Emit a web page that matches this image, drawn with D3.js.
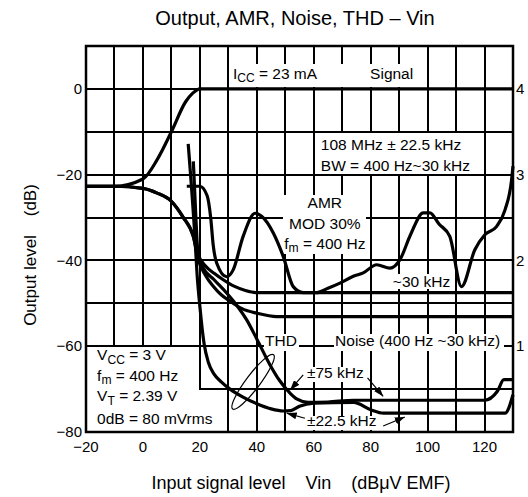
<!DOCTYPE html>
<html>
<head>
<meta charset="utf-8">
<script src="https://cdn.jsdelivr.net/npm/d3@7"></script>
<style>
  html, body { margin: 0; padding: 0; background: #fff; }
  #wrap { position: relative; width: 528px; height: 497px; }
  #wrap svg { position: absolute; left: 0; top: 0; display: block; font-family: "Liberation Sans", Arial, sans-serif; }
</style>
</head>
<body>
<div id="wrap">
  <svg id="grid" width="528" height="497"></svg>
  <svg id="chart" width="528" height="497"></svg>
</div>
<script>
// ---- data (x = input level dBuV EMF, y = output level dB) ----
const xTicks = [-20, 0, 20, 40, 60, 80, 100, 120];
const yTicks = [0, -20, -40, -60, -80];
const thdTicks = [1, 2, 3, 4];
const xGrid = [-10, 0, 10, 20, 30, 40, 50, 60, 70, 80, 90, 100, 110, 120];
const yGrid = [0, -10, -20, -30, -40, -50, -60, -70];

const signalOut = [[-20, -22.7], [-10, -22.7], [0, -21], [5, -16.5], [10, -10], [15, -3], [17.5, -1], [20, 0], [130, 0]];

const noiseWide = [[-20, -22.7], [-10, -22.7], [0, -23.2], [5, -24.3], [10, -26.2], [14.2, -30], [17.7, -34.4],
  [19.3, -38.5], [22, -41.3], [25, -43], [28.2, -44.5], [32, -46], [36, -47], [40, -47.5], [130, -47.5]];

const noiseBand = [[-20, -22.7], [-10, -22.7], [0, -23.2], [5, -24.3], [10, -26.2], [14.2, -30], [17.7, -34.4],
  [19.3, -39.5], [22, -43.5], [24.7, -46], [27.5, -48], [30.6, -49.5], [35, -51.3], [40, -52.3], [47, -53.1], [130, -53.1]];

const amr = [[15.4, -22.7], [20, -22.7], [22.5, -24.8], [23.8, -30], [24.7, -36.5], [25.9, -40.6], [29.4, -43.8],
  [31.7, -42.2], [35.2, -34.4], [39.4, -29], [41.7, -29.7], [45.8, -33.6], [49.3, -39.1], [52.8, -46.1],
  [56.3, -47.5], [61, -47.5], [65, -46.5], [69.2, -45.3], [73.9, -43.7], [77.4, -42.9], [82.1, -41],
  [86.8, -41.8], [90.3, -39.8], [94, -34], [98.5, -28.9], [100.8, -28.9], [104, -31.5], [107.8, -34.4],
  [111.9, -46.1], [116.6, -37.5], [120.1, -34], [124.2, -32.1], [127.2, -28.2], [129.5, -21.2], [130, -18]];

const thd75 = [[17.7, -16.9], [18.6, -30], [19.3, -38], [21, -41.5], [25, -44.5], [29.4, -47.6], [33, -50.5],
  [36.4, -53.8], [40, -58.3], [44.6, -64.3], [48, -68], [51.6, -70.9], [54, -72.3], [58, -73.1], [65, -73],
  [74, -72.6], [120, -72.6], [124.5, -70.5], [126.8, -67.8], [130, -67.8]];

const thd225 = [[15.9, -12.8], [18.3, -35], [19, -43], [20, -50.7], [21.5, -59.5], [23, -63.8], [25, -66.5],
  [27.5, -68.3], [30.6, -70], [35, -71.8], [40, -73.4], [45, -74.6], [49.3, -75.1], [52, -75], [55, -74],
  [60, -73.3], [74, -73.1], [80, -74.8], [84.5, -75.6], [127.2, -75.6], [130, -71.3]];

const series = [signalOut, noiseWide, noiseBand, amr, thd75, thd225];

// ---- layout ----
const W = 528, H = 497;
const margin = { top: 46, right: 15, bottom: 65, left: 86 };
const FONT = 15.5;

const x = d3.scaleLinear().domain([-20, 130]).range([margin.left, W - margin.right]);
const y = d3.scaleLinear().domain([-80, 10]).range([H - margin.bottom, margin.top]);
const yThd = d3.scaleLinear().domain([0, 4.5]).range([H - margin.bottom, margin.top]);

// areas where the grid is broken (boxes and labels), in data units [x0, yTop, x1, yBottom]
const gapAreas = [
  [60, -10, 120, -20],      // bandwidth box interior
  [-20, -60, 20, -80],      // conditions box, upper part
  [-20, -70, 30, -80],      // conditions box, lower part
  [30.6, 6, 97.1, 0.35],    // Icc / Signal
  [49, -24.5, 78.7, -38.6], // AMR block
  [87, -43, 109, -46.6],    // ~30 kHz
  [42.3, -57, 55.2, -61],   // THD
  [66.8, -57, 127.3, -61],  // Noise
  [56.8, -64.5, 78.6, -68.3], // ±75 kHz
  [56.8, -76, 83.5, -79.6]  // ±22.5 kHz
];
// to pixels, keeping the box borders (1 px inset where the edge is a grid line)
const gaps = gapAreas.map(([a, b, c, d]) => [x(a) + 1, y(b) + 1, x(c) - 1, y(d) - 0.01]);

// ---- grid (own layer underneath) ----
function segs(a, b, covers) {
  let out = [[a, b]];
  covers.forEach(([c0, c1]) => {
    const next = [];
    out.forEach(([s, e]) => {
      if (c1 <= s || c0 >= e) { next.push([s, e]); return; }
      if (c0 > s) next.push([s, c0]);
      if (c1 < e) next.push([c1, e]);
    });
    out = next;
  });
  return out;
}
const gridRects = [];
xGrid.forEach(v => {
  const px = Math.round(x(v));
  const cov = gaps.filter(g => x(v) > g[0] && x(v) < g[2]).map(g => [g[1], g[3]]);
  segs(y(10), y(-80), cov).forEach(([s, e]) => gridRects.push({ x: px - 1, y: Math.round(s), w: 2, h: Math.round(e) - Math.round(s) }));
});
yGrid.forEach(v => {
  const py = Math.round(y(v));
  const cov = gaps.filter(g => y(v) > g[1] && y(v) < g[3]).map(g => [g[0], g[2]]);
  segs(x(-20), x(130), cov).forEach(([s, e]) => gridRects.push({ x: Math.round(s), y: py - 1, w: Math.round(e) - Math.round(s), h: 2 }));
});
d3.select('#grid').selectAll('rect').data(gridRects).join('rect')
  .attr('x', d => d.x).attr('y', d => d.y)
  .attr('width', d => Math.max(0, d.w)).attr('height', d => Math.max(0, d.h))
  .attr('fill', '#000')
  .attr('shape-rendering', 'crispEdges');

// ---- chart layer ----
const svg = d3.select('#chart');

svg.append('defs').append('marker')
  .attr('id', 'arr')
  .attr('markerUnits', 'userSpaceOnUse')
  .attr('markerWidth', 10).attr('markerHeight', 7)
  .attr('refX', 10).attr('refY', 3.5)
  .attr('orient', 'auto')
  .append('path').attr('d', 'M0,0 L10,3.5 L0,7 Z').attr('fill', '#000');

const lineGen = d3.line().x(d => x(d[0])).y(d => y(d[1])).curve(d3.curveMonotoneX);
svg.append('g').selectAll('path').data(series).join('path')
  .attr('d', lineGen)
  .attr('fill', 'none').attr('stroke', '#000')
  .attr('stroke-width', 3.2).attr('stroke-linejoin', 'round');

const gText = svg.append('g').attr('font-size', FONT).attr('fill', '#000');

// text helper: parts = [[text, 'sub'?], ...]
function label(px, py, parts, anchor) {
  const t = gText.append('text')
    .attr('x', px).attr('y', py)
    .attr('text-anchor', anchor || 'start')
    .style('white-space', 'pre');
  let shifted = false;
  parts.forEach(p => {
    const s = t.append('tspan').text(p[0]);
    if (p[1] === 'sub') {
      s.attr('font-size', FONT * 0.78).attr('dy', shifted ? 0 : 3.5);
      shifted = true;
    } else if (shifted) {
      s.attr('dy', -3.5);
      shifted = false;
    }
  });
  return t;
}

label(x(31.6), y(2.4), [['I'], ['CC', 'sub'], [' = 23 mA']]);
label(x(79.8), y(2.4), [['Signal']]);

label(x(62.5), y(-14.2), [['108 MHz ± 22.5 kHz']]);
label(x(62.5), y(-19.1), [['BW = 400 Hz~30 kHz']]);

label(x(63.9), y(-27.7), [['AMR']], 'middle');
label(x(63.9), y(-32.6), [['MOD 30%']], 'middle');
label(x(63.9), y(-37.3), [['f'], ['m', 'sub'], [' = 400 Hz']], 'middle');

label(x(87.8), y(-46.1), [['~30 kHz']]);
label(x(42.9), y(-59.9), [['THD']]);
label(x(67.5), y(-59.9), [['Noise (400 Hz ~30 kHz)']]);
label(x(57.6), y(-67.3), [['±75 kHz']]);
label(x(57.6), y(-78.6), [['±22.5 kHz']]);

label(x(-16.1), y(-63.3), [['V'], ['CC', 'sub'], [' = 3 V']]);
label(x(-16.1), y(-68.1), [['f'], ['m', 'sub'], [' = 400 Hz']]);
label(x(-16.1), y(-72.8), [['V'], ['T', 'sub'], [' = 2.39 V']]);
label(x(-16.1), y(-78.1), [['0dB = 80 mVrms']]);

// arrows
const arrows = [
  [[56.3, -66.7], [51.7, -70.2]],
  [[78.9, -67.4], [84.4, -71.7]],
  [[56.9, -76.8], [50.5, -75.6]],
  [[84.4, -78.6], [92, -76.5]]
];
gText.selectAll('line').data(arrows).join('line')
  .attr('x1', d => x(d[0][0])).attr('y1', d => y(d[0][1]))
  .attr('x2', d => x(d[1][0])).attr('y2', d => y(d[1][1]))
  .attr('stroke', '#000').attr('stroke-width', 1.2)
  .attr('marker-end', 'url(#arr)');

// THD ellipse
gText.append('ellipse')
  .attr('cx', x(38.7)).attr('cy', y(-68.3))
  .attr('rx', 34).attr('ry', 7)
  .attr('transform', `rotate(-53 ${x(38.7)} ${y(-68.3)})`)
  .attr('fill', 'none').attr('stroke', '#000').attr('stroke-width', 1.2);

// frame
svg.append('rect')
  .attr('x', x(-20)).attr('y', y(10))
  .attr('width', x(130) - x(-20)).attr('height', y(-80) - y(10))
  .attr('fill', 'none').attr('stroke', '#000').attr('stroke-width', 2.5);

// axes labels
const gAx = svg.append('g').attr('font-size', 15).attr('fill', '#000');
gAx.selectAll('text.yl').data(yTicks).join('text')
  .attr('class', 'yl')
  .attr('x', x(-20) - 4).attr('y', d => y(d)).attr('dy', '0.35em')
  .attr('text-anchor', 'end')
  .text(d => d < 0 ? '\u2212' + Math.abs(d) : d);
gAx.selectAll('text.xl').data(xTicks).join('text')
  .attr('class', 'xl')
  .attr('x', d => x(d)).attr('y', y(-80) + 20)
  .attr('text-anchor', 'middle')
  .text(d => d < 0 ? '\u2212' + Math.abs(d) : d);
gAx.selectAll('text.rl').data(thdTicks).join('text')
  .attr('class', 'rl')
  .attr('x', x(130) + 3).attr('y', d => yThd(d)).attr('dy', '0.35em')
  .text(d => d);

svg.append('text')
  .attr('x', 295).attr('y', 25)
  .attr('text-anchor', 'middle').attr('font-size', 20)
  .text('Output, AMR, Noise, THD \u2013 Vin');

svg.append('text')
  .attr('x', 301).attr('y', 489)
  .attr('text-anchor', 'middle').attr('font-size', 18)
  .style('white-space', 'pre')
  .text('Input signal level    Vin    (dB\u03bcV EMF)');

svg.append('text')
  .attr('transform', 'translate(36, 255) rotate(-90)')
  .attr('text-anchor', 'middle').attr('font-size', 17)
  .style('white-space', 'pre')
  .text('Output level    (dB)');
</script>
</body>
</html>
